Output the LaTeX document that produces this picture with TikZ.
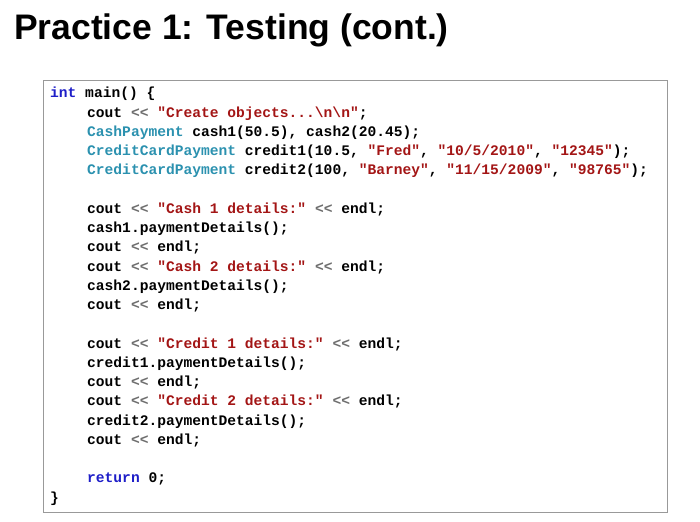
\documentclass[tikz,border=0pt]{standalone}
\usepackage{fontspec}
\setmainfont{Liberation Sans}
\setmonofont{Liberation Mono}
\definecolor{kw}{RGB}{30,30,200}
\definecolor{ty}{RGB}{43,145,175}
\definecolor{st}{RGB}{163,21,21}
\definecolor{op}{RGB}{110,110,110}
\newcommand{\K}[1]{\textcolor{kw}{#1}}
\newcommand{\T}[1]{\textcolor{ty}{#1}}
\newcommand{\Sg}[1]{\textcolor{st}{#1}}
\newcommand{\Op}{\textcolor{op}{<{}<}}
\tikzset{codeline/.style={anchor=base west,inner sep=0pt,font=\ttfamily\bfseries\fontsize{14.6}{16}\selectfont}}
\begin{document}
\begin{tikzpicture}[x=1pt,y=-1pt]
\useasboundingbox (0,0) rectangle (700,521);
\node[anchor=base west,inner sep=0pt,font=\bfseries\fontsize{35.5}{38}\selectfont] (title) at (14,40) {Practice 1: Testing (cont.)};
\node[draw=gray!80,line width=0.8pt,minimum width=624pt,minimum height=432pt,anchor=north west,inner sep=0pt] (box) at (43,80) {};
\foreach \i/\x/\t in {
1/50/{\K{int} main() \{},
2/87/{cout \Op{} \Sg{"Create objects...\textbackslash n\textbackslash n"};},
3/87/{\T{CashPayment} cash1(50.5), cash2(20.45);},
4/87/{\T{CreditCardPayment} credit1(10.5, \Sg{"Fred"}, \Sg{"10/5/2010"}, \Sg{"12345"});},
5/87/{\T{CreditCardPayment} credit2(100, \Sg{"Barney"}, \Sg{"11/15/2009"}, \Sg{"98765"});},
7/87/{cout \Op{} \Sg{"Cash 1 details:"} \Op{} endl;},
8/87/{cash1.paymentDetails();},
9/87/{cout \Op{} endl;},
10/87/{cout \Op{} \Sg{"Cash 2 details:"} \Op{} endl;},
11/87/{cash2.paymentDetails();},
12/87/{cout \Op{} endl;},
14/87/{cout \Op{} \Sg{"Credit 1 details:"} \Op{} endl;},
15/87/{credit1.paymentDetails();},
16/87/{cout \Op{} endl;},
17/87/{cout \Op{} \Sg{"Credit 2 details:"} \Op{} endl;},
18/87/{credit2.paymentDetails();},
19/87/{cout \Op{} endl;},
21/87/{\K{return} 0;},
22/50/{\}}}
  \node[codeline] (l\i) at (\x,{98+19.24*(\i-1)}) {\t};
\end{tikzpicture}
\end{document}
